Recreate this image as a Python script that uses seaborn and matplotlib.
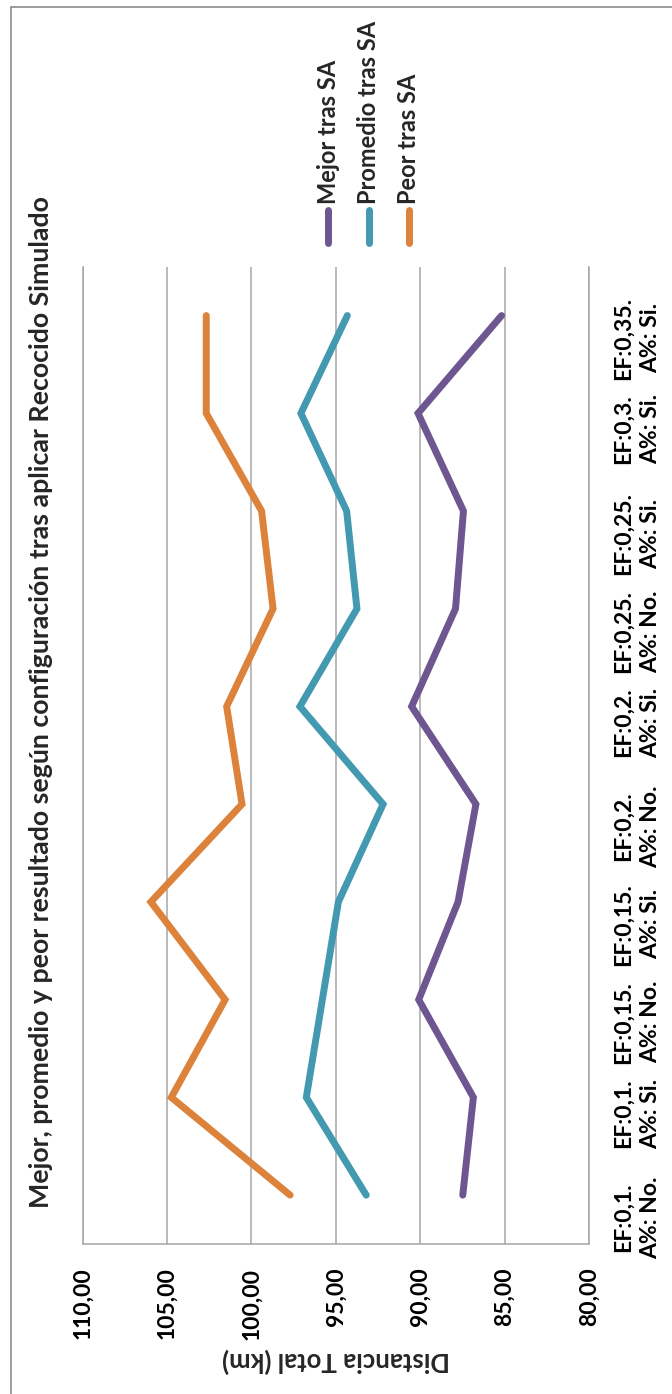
import matplotlib
matplotlib.use("Agg")
import matplotlib.pyplot as plt
from matplotlib.lines import Line2D
import pandas as pd
import seaborn as sns

# Configurations (bottom to top) and results after simulated annealing (km)
configuraciones = [
    "EF:0,1.\nA%: No.", "EF:0,1.\nA%: Si.", "EF:0,15.\nA%: No.", "EF:0,15.\nA%: Si.",
    "EF:0,2.\nA%: No.", "EF:0,2.\nA%: Si.", "EF:0,25.\nA%: No.", "EF:0,25.\nA%: Si.",
    "EF:0,3.\nA%: Si.", "EF:0,35.\nA%: Si.",
]
mejor = [87.48, 86.85, 90.09, 87.76, 86.70, 90.51, 87.91, 87.44, 90.13, 85.18]
promedio = [93.20, 96.75, 95.80, 94.85, 92.20, 97.13, 93.75, 94.36, 97.07, 94.32]
peor = [97.71, 104.75, 101.56, 105.96, 100.56, 101.47, 98.72, 99.40, 102.68, 102.68]
series = ["Mejor tras SA", "Promedio tras SA", "Peor tras SA"]
colores = ["#6E5690", "#4299B0", "#DC823A"]
ticks_valor = [110, 105, 100, 95, 90, 85, 80]
titulo = "Mejor, promedio y peor resultado según configuración tras aplicar Recocido Simulado"
etiqueta_valor = "Distancia Total (km)"

sns.set_theme(style="white")
plt.rcParams["font.family"] = ["Lato", "DejaVu Sans"]

filas = []
for nombre, valores in zip(series, [mejor, promedio, peor]):
    for i, v in enumerate(valores):
        filas.append({"serie": nombre, "pos": i, "valor": v})
df = pd.DataFrame(filas)

W, H = 672, 1394
fig = plt.figure(figsize=(W / 100, H / 100), dpi=100)
fig.patch.set_facecolor("white")

x0, x1, y0, y1 = 82.7, 589.0, 266.7, 1244.0
ax = fig.add_axes([x0 / W, 1 - y1 / H, (x1 - x0) / W, (y1 - y0) / H])

sns.lineplot(data=df, x="valor", y="pos", hue="serie", hue_order=series,
             palette=colores, sort=False, estimator=None, orient="y",
             linewidth=5, legend=False, ax=ax,
             solid_capstyle="round", solid_joinstyle="miter")

ax.set_xlim(110, 80)
ax.set_ylim(-0.5, len(configuraciones) - 0.5)

grid_col = "#A6A6A6"
ax.set_xticks(ticks_valor)
ax.set_xticklabels([f"{t},00" for t in ticks_valor], rotation=90,
                   fontsize=16.5, fontweight="bold", color="black")
ax.tick_params(axis="x", length=0, pad=17)
ax.grid(axis="x", color=grid_col, linewidth=1.1)
ax.grid(axis="y", visible=False)

ax.yaxis.tick_right()
ax.set_yticks(range(len(configuraciones)))
ax.set_yticklabels(configuraciones, rotation=90, fontsize=16.5, fontweight="bold",
                   multialignment="center", linespacing=1.37, color="black")
ax.tick_params(axis="y", length=0, pad=17)
ax.set_ylabel("")

ax.spines["top"].set_visible(False)
for side in ["left", "right", "bottom"]:
    ax.spines[side].set_color(grid_col)
    ax.spines[side].set_linewidth(1.1)

ax.set_xlabel(etiqueta_valor, rotation=180, fontsize=18.5, fontweight="bold",
              labelpad=6)

fig.text(41 / W, 1 - 702 / H, titulo, rotation=90, ha="center", va="center",
         fontsize=19.3, fontweight="bold")

# Legend keys: short line sample with the series name above it
leg_x = [328, 368.5, 409]
for xp, nombre, col in zip(leg_x, series, colores):
    fig.add_artist(Line2D([xp / W, xp / W], [1 - 210 / H, 1 - 243 / H],
                          color=col, linewidth=5, solid_capstyle="round"))
    fig.text(xp / W, 1 - 204 / H, nombre, rotation=90, ha="center", va="bottom",
             fontsize=17, fontweight="bold")

# Chart frame
border = "#8C8C8C"
fig.add_artist(Line2D([11 / W, 1.0], [1 - 6.7 / H, 1 - 6.7 / H], color=border, linewidth=1.2))
fig.add_artist(Line2D([11 / W, 11 / W], [1 - 6.7 / H, 0.0], color=border, linewidth=1.2))

fig.savefig("out.png", dpi=100, facecolor="white")
